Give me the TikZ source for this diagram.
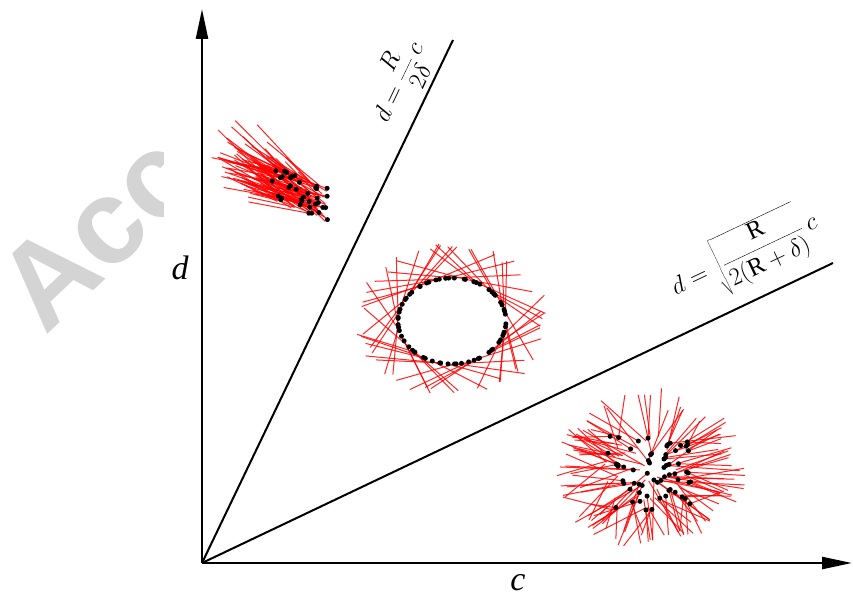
\documentclass[tikz,border=0pt]{standalone}
\usepackage{fontspec}
\setmainfont{Liberation Serif}
\setsansfont{Liberation Sans}
\usetikzlibrary{arrows.meta}
\begin{document}
\begin{tikzpicture}[x=1pt,y=-1pt,
  axis/.style={line width=2.4pt,-{Triangle[length=30pt,width=12pt]}},
  bound/.style={line width=2pt},
  ray/.style={draw=red,line width=1pt,opacity=0.85},
  dot/.style={circle,fill=black,inner sep=0pt,minimum size=5pt},
  lab/.style={font=\fontsize{34}{40}\selectfont\itshape,inner sep=0pt},
  eq/.style={font=\fontsize{25}{30}\selectfont,inner sep=0pt}
]
\useasboundingbox (0,0) rectangle (853,602);
% watermark
\begin{scope}
\clip (0,0) rectangle (163,602);
\node[anchor=base west, rotate=43.5, text=black!17, font=\sffamily\bfseries\fontsize{120}{120}\selectfont, inner sep=0pt] (wm) at (45,337) {Acc};
\end{scope}
% cluster 1
\pgfmathsetseed{11}
\foreach \i in {1,...,110}{
  \pgfmathsetmacro\ra{rand}
  \pgfmathsetmacro\px{300+28*\ra}
  \pgfmathsetmacro\py{194+12*\ra+18*rand}
  \pgfmathsetmacro\a{10+38*rnd}
  \pgfmathsetmacro\L{30+50*rnd}
  \coordinate (a\i) at (\px,\py);
  \draw[ray] (a\i) -- ++({-\L*cos(\a)},{-\L*sin(\a)});
}
\foreach \i in {1,4,...,109}{\node[dot] at (a\i) {};}
% cluster 2 (ring)
\foreach \i in {1,...,64}{
  \pgfmathsetmacro\t{5.625*\i+4*rand}
  \pgfmathsetmacro\s{ifthenelse(rnd>0.5,1,-1)}
  \pgfmathsetmacro\u{\t+\s*(35+20*rnd)}
  \pgfmathsetmacro\ro{1.62+0.2*rnd}
  \coordinate (b\i) at ({452+54*cos(\t)},{321+43*sin(\t)});
  \draw[ray] (b\i) -- ({452+54*\ro*cos(\u)},{321+43*\ro*sin(\u)});
}
\foreach \i in {1,...,64}{\node[dot] at (b\i) {};}
% cluster 3 (burst)
\foreach \i in {1,...,130}{
  \pgfmathsetmacro\px{648+44*rand}
  \pgfmathsetmacro\py{474+38*rand}
  \pgfmathsetmacro\t{atan2(\py-470,\px-650)+30*rand}
  \pgfmathsetmacro\ro{72+25*rnd}
  \coordinate (c\i) at (\px,\py);
  \draw[ray] (c\i) -- ({650+\ro*cos(\t)},{470+0.85*\ro*sin(\t)});
}
\foreach \i in {1,3,...,129}{\node[dot] at (c\i) {};}
% axes and boundary lines
\coordinate (O) at (202,563);
\coordinate (ytip) at (202,9);
\coordinate (xtip) at (852,563);
\coordinate (l1) at (453,40);
\coordinate (l2) at (833,263);
\draw[axis] (O) -- (ytip);
\draw[axis] (O) -- (xtip);
\draw[bound] (O) -- (l1);
\draw[bound] (O) -- (l2);
% labels
\node[lab] (dl) at (180,268) {d};
\node[lab] (cl) at (518,583) {c};
\node[eq, rotate=64.4] (e1) at (398,82) {$d=\displaystyle\frac{R}{2\delta}\,c$};
\node[eq, rotate=25.4] (e2) at (745,256) {$d=\sqrt{\displaystyle\frac{\mathrm{R}}{2(\mathrm{R}+\delta)}}\,c$};
\end{tikzpicture}
\end{document}
